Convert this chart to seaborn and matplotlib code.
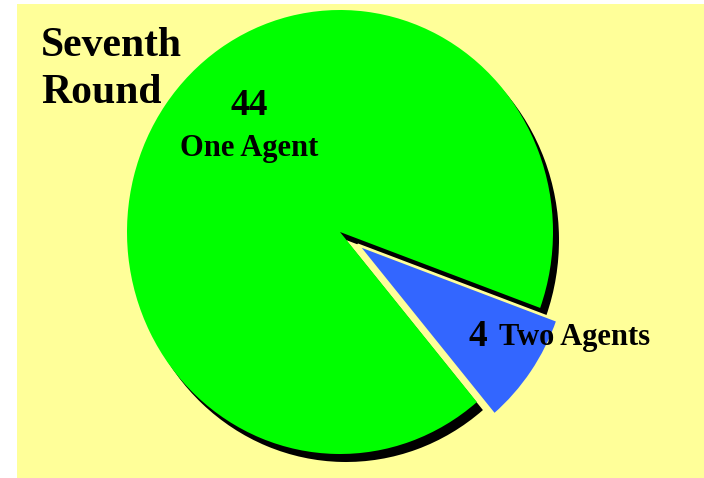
import matplotlib
matplotlib.use("Agg")
import matplotlib.pyplot as plt
import seaborn as sns

# data
labels = ["Two Agents", "One Agent"]
counts = [4, 44]
slice_colors = ["#3366FF", "#00FF00"]
title_text = "Seventh\nRound"

sns.set_theme(style="white")
plt.rcParams["font.family"] = ["Liberation Serif", "DejaVu Serif"]
plt.rcParams["text.color"] = "black"

W, H = 704, 478
fig = plt.figure(figsize=(W / 100, H / 100), dpi=100, facecolor="white")

# yellow panel, pixel box 17..704 x 4..478
ax = fig.add_axes([17 / W, 0, (W - 17) / W, (H - 4) / H])

# pie centre and radii in pixels (slightly taller than wide, like the reference)
cx, cy, rx, ry = 340, 232, 213, 222

# shadow of the big slice
ax.pie(counts, colors=["none", "black"], startangle=-50, counterclock=True,
       center=(6 / rx, -8 / ry), wedgeprops=dict(linewidth=0))

# the pie itself, small slice pulled out
wedges, _ = ax.pie(counts, colors=slice_colors, startangle=-50, counterclock=True,
                   explode=[0.1, 0], wedgeprops=dict(linewidth=0))
wedges[0].set_edgecolor("#FFFF99")
wedges[0].set_linewidth(2)

ax.set_aspect("auto")
ax.set_xlim((17 - cx) / rx, (W - cx) / rx)
ax.set_ylim((cy - H) / ry, (cy - 4) / ry)
ax.set_frame_on(True)
ax.set_facecolor("#FFFF99")
for s in ax.spines.values():
    s.set_visible(False)
ax.set_xticks([])
ax.set_yticks([])

def fx(px):
    return px / W

def fy(py):
    return 1 - py / H

fig.text(fx(41), fy(27), title_text, fontsize=30, fontweight="bold",
         ha="left", va="top", linespacing=1.32)

fig.text(fx(249), fy(115), str(counts[1]), fontsize=27, fontweight="bold",
         ha="center", va="baseline")
fig.text(fx(249), fy(156), labels[1], fontsize=22, fontweight="bold",
         ha="center", va="baseline")

fig.text(fx(469), fy(346), str(counts[0]), fontsize=27, fontweight="bold",
         ha="left", va="baseline")
fig.text(fx(499), fy(345), labels[0], fontsize=22, fontweight="bold",
         ha="left", va="baseline")

fig.savefig("out.png", dpi=100, facecolor="white")
